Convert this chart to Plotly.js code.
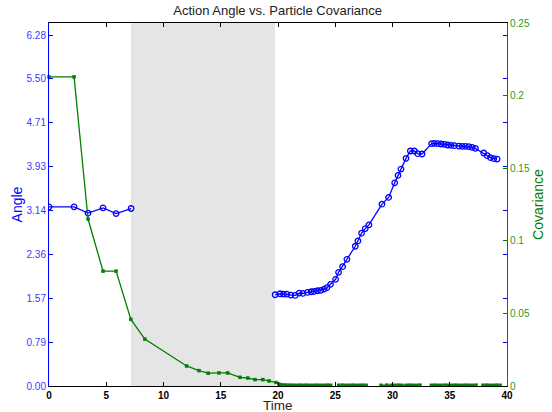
<!DOCTYPE html>
<html>
<head>
<meta charset="utf-8">
<script src="https://cdn.plot.ly/plotly-3.0.1.min.js"></script>
<style>html,body{margin:0;padding:0;background:#fff}#chart{width:552px;height:412px}</style>
</head>
<body>
<div id="chart"></div>
<script>
// Angle series (two segments separated by a gap)
const angleTime1 = [0, 2.19, 3.41, 4.72, 5.86, 7.17];
const angleVal1  = [3.208, 3.208, 3.095, 3.19, 3.088, 3.178];
const angleTime2 = [19.75, 20.18, 20.48, 20.77, 21.12, 21.5, 21.85, 22.17, 22.57, 22.9, 23.16, 23.45, 23.74, 24.03, 24.27, 24.59, 25.03, 25.29, 25.64, 26.02, 26.75, 26.98, 27.3, 27.62, 27.94, 29.08, 29.66, 30.19, 30.48, 30.74, 31.18, 31.56, 31.91, 32.2, 32.58, 33.42, 33.66, 33.95, 34.24, 34.53, 34.82, 35.11, 35.4, 35.79, 36.08, 36.37, 36.66, 36.95, 37.24, 37.97, 38.27, 38.56, 38.85, 39.14];
const angleVal2  = [1.634, 1.652, 1.646, 1.646, 1.628, 1.622, 1.664, 1.658, 1.676, 1.688, 1.694, 1.706, 1.712, 1.736, 1.76, 1.82, 1.91, 2.035, 2.137, 2.269, 2.502, 2.598, 2.736, 2.819, 2.885, 3.256, 3.376, 3.639, 3.771, 3.885, 4.076, 4.208, 4.208, 4.16, 4.154, 4.339, 4.345, 4.339, 4.333, 4.327, 4.315, 4.309, 4.303, 4.297, 4.291, 4.291, 4.285, 4.273, 4.255, 4.172, 4.124, 4.088, 4.07, 4.064];

// Covariance series
const covTime = [0, 2.19, 3.41, 4.72, 5.86, 7.15, 8.37, 12.02, 13.1, 13.9, 14.84, 15.6, 16.68, 17.36, 17.99, 18.67, 19.22, 19.83,
  20.1, 20.4, 20.7, 21.0, 21.3, 21.6, 21.9, 22.2, 22.5, 22.8, 23.1, 23.4, 23.7, 24.0, 24.3, 24.6, 24.9,
  25.3, 25.6, 25.9, 26.2, 26.5, 26.8, 27.1, 27.4, 27.7, 28.3,
  29.0, 29.5, 29.9, 30.2, 30.5, 30.8, 31.2, 31.5, 31.8, 32.1, 32.4, 32.9,
  33.4, 33.7, 34.0, 34.3, 34.6, 34.9, 35.2, 35.5, 35.8, 36.1, 36.4, 36.7, 37.0, 37.3, 37.6,
  37.9, 38.2, 38.5, 38.8, 39.1, 39.4];
const covVal = [0.2129, 0.2129, 0.115, 0.0791, 0.0791, 0.0459, 0.0323, 0.0138, 0.0106, 0.0088, 0.009, 0.009, 0.006, 0.0055, 0.0044, 0.0044, 0.0035, 0.0024,
  0.0012, 0.0008, 0.0007, 0.0006, 0.0006, 0.0005, 0.0006, 0.0005, 0.0006, 0.0005, 0.0005, 0.0006, 0.0005, 0.0005, 0.0006, 0.0005, null,
  0.0005, 0.0006, 0.0005, 0.0005, 0.0006, 0.0005, 0.0005, 0.0006, 0.0005, null,
  0.0005, 0.0006, 0.0005, 0.0005, 0.0006, 0.0005, 0.0005, 0.0006, 0.0005, 0.0005, 0.0006, null,
  0.0005, 0.0006, 0.0005, 0.0005, 0.0006, 0.0005, 0.0005, 0.0006, 0.0005, 0.0005, 0.0006, 0.0005, 0.0005, 0.0006, null,
  0.0005, 0.0006, 0.0005, 0.0005, 0.0006, 0.0005];

// Shaded interval (gap in the angle data)
const shadeStart = 7.15;
const shadeEnd = 19.74;

// Tick labels
const xTicks = [0, 5, 10, 15, 20, 25, 30, 35, 40];
const angleTickVals = [0, Math.PI/4, Math.PI/2, 3*Math.PI/4, Math.PI, 5*Math.PI/4, 3*Math.PI/2, 7*Math.PI/4, 2*Math.PI];
const angleTickText = ['0.00', '0.79', '1.57', '2.36', '3.14', '3.93', '4.71', '5.50', '6.28'];
const covTickVals = [0, 0.05, 0.1, 0.15, 0.2, 0.25];
const covTickText = ['0', '0.05', '0.1', '0.15', '0.2', '0.25'];

const BLUE = '#0000ff';
const GREEN = '#007f00';
const FONT = 'Liberation Sans, Arial, Helvetica, sans-serif';

const angleStyle = {
  mode: 'lines+markers',
  line: {color: BLUE, width: 1.3},
  marker: {symbol: 'circle-open', size: 5.5, color: BLUE, line: {width: 1.3, color: BLUE}},
  xaxis: 'x', yaxis: 'y', showlegend: false, hoverinfo: 'skip'
};

const traces = [
  Object.assign({type: 'scatter', x: covTime, y: covVal, yaxis: 'y2', mode: 'lines+markers',
    line: {color: GREEN, width: 1.3},
    marker: {symbol: 'square', size: 3.5, color: GREEN},
    connectgaps: false, showlegend: false, hoverinfo: 'skip', cliponaxis: false}),
  Object.assign({type: 'scatter', x: angleTime1, y: angleVal1}, angleStyle),
  Object.assign({type: 'scatter', x: angleTime2, y: angleVal2}, angleStyle)
];

const layout = {
  width: 552, height: 412,
  margin: {l: 49, r: 45, t: 23, b: 26, pad: 0},
  paper_bgcolor: '#ffffff', plot_bgcolor: '#ffffff',
  font: {family: FONT, size: 10, color: '#000'},
  title: {text: 'Action Angle vs. Particle Covariance', font: {family: FONT, size: 13, color: '#222'},
    x: 0.503, xanchor: 'center', y: 0.975, yanchor: 'middle'},
  xaxis: {
    range: [0, 40], tickvals: xTicks, ticktext: xTicks.map(String),
    ticks: 'inside', ticklen: 4, tickwidth: 1, tickcolor: '#000',
    showline: true, linecolor: '#000', linewidth: 1, mirror: 'ticks',
    showgrid: false, zeroline: false,
    tickfont: {family: FONT, size: 10, color: '#000', weight: 'bold'}
  },
  yaxis: {
    range: [0, 6.5], tickvals: angleTickVals, ticktext: angleTickText,
    ticks: 'inside', ticklen: 4, tickwidth: 1, tickcolor: BLUE,
    showline: true, linecolor: BLUE, linewidth: 1, mirror: 'ticks',
    showgrid: false, zeroline: false,
    tickfont: {family: FONT, size: 10, color: '#3a3aff'},
    title: {text: 'Angle', font: {family: FONT, size: 14, color: BLUE}, standoff: 0}
  },
  yaxis2: {
    range: [0, 0.25], tickvals: covTickVals, ticktext: covTickText,
    overlaying: 'y', side: 'right',
    ticks: 'inside', ticklen: 4, tickwidth: 1, tickcolor: GREEN,
    showline: true, linecolor: GREEN, linewidth: 1,
    showgrid: false, zeroline: false,
    tickfont: {family: FONT, size: 10, color: '#1f9a1f'},
    title: {text: 'Covariance', font: {family: FONT, size: 14, color: GREEN}, standoff: 3}
  },
  annotations: [{text: 'Time', xref: 'paper', yref: 'paper', x: 0.5, y: 0, xanchor: 'center', yanchor: 'top',
    yshift: -11, showarrow: false, borderpad: 0, font: {family: FONT, size: 13.5, color: '#222'}}],
  shapes: [{type: 'rect', xref: 'x', yref: 'paper', x0: shadeStart, x1: shadeEnd, y0: 0, y1: 1,
    fillcolor: '#e5e5e5', line: {width: 0}, layer: 'below'}]
};

Plotly.newPlot('chart', traces, layout, {displayModeBar: false, staticPlot: true});
</script>
</body>
</html>
